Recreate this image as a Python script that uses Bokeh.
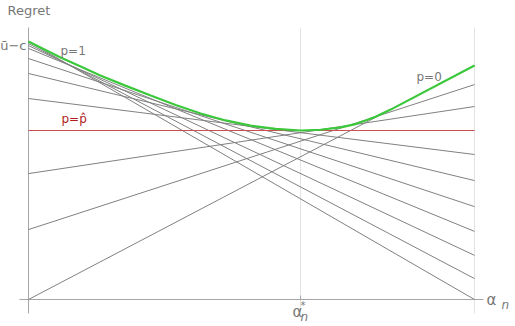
from bokeh.plotting import figure
from bokeh.models import Range1d, Label
from bokeh.embed import file_html
from bokeh.resources import INLINE

# ---------------- data ----------------
# regret lines, one per belief p: value at alpha=0 (left) and alpha=1 (right)
line_left = [1.0, 0.992, 0.984, 0.973, 0.934, 0.876, 0.779, 0.488, 0.271, 0.0]
line_right = [0.0, 0.081, 0.171, 0.264, 0.360, 0.461, 0.562, 0.748, 0.833, 0.907]
# the p = p-hat line (flat)
phat_left = 0.655
phat_right = 0.655
# upper envelope (max regret)
env_x = [0.0, 0.038, 0.072, 0.117, 0.161, 0.217, 0.274, 0.330, 0.386, 0.442,
         0.498, 0.554, 0.610, 0.655, 0.700, 0.733, 0.756, 0.778, 0.812, 1.0]
env_y = [1.0, 0.967, 0.938, 0.903, 0.868, 0.829, 0.791, 0.754, 0.721, 0.694,
         0.674, 0.661, 0.655, 0.658, 0.667, 0.680, 0.694, 0.708, 0.736, 0.907]
alpha_star = 0.61
alpha_max = 1.0

# ---------------- styling ----------------
GRAY = "#808080"
AXIS = "#a6a6a6"
GRID = "#e3e3e3"
GREEN = "#3bc93b"
RED = "#c85050"
RED_TXT = "#b01c1c"
TXT = "#777777"
FONT = "DejaVu Sans"

W, H = 515, 326
X0, XS = 28.0, 446.0
Y0, YS = 299.0, 258.0


def X(px):
    return (px - X0) / XS


def Y(py):
    return (Y0 - py) / YS


p = figure(width=W, height=H, output_backend="svg", toolbar_location=None,
           x_axis_location=None, y_axis_location=None, min_border=0,
           x_range=Range1d(-X0 / XS, (W - X0) / XS),
           y_range=Range1d((Y0 - H) / YS, Y0 / YS))
p.outline_line_color = None
p.grid.visible = False
p.background_fill_color = "white"

# grid lines
p.segment(x0=[alpha_star, alpha_max], y0=[Y(313)] * 2, x1=[alpha_star, alpha_max],
          y1=[Y(27)] * 2, line_color=GRID, line_width=1)
# axes
p.segment(x0=[0.0], y0=[Y(313)], x1=[0.0], y1=[Y(27)], line_color=AXIS, line_width=1)
p.segment(x0=[X(19)], y0=[0.0], x1=[X(483)], y1=[0.0], line_color=AXIS, line_width=1)
# tick at alpha*
p.segment(x0=[alpha_star], y0=[0.0], x1=[alpha_star], y1=[Y(295)], line_color=AXIS, line_width=1)

# gray regret lines
p.segment(x0=[0.0] * len(line_left), y0=line_left, x1=[1.0] * len(line_right), y1=line_right,
          line_color=GRAY, line_width=1)
# p-hat line
p.segment(x0=[0.0], y0=[phat_left], x1=[1.0], y1=[phat_right], line_color=RED, line_width=1.2)
# envelope
p.line(env_x, env_y, line_color=GREEN, line_width=2.2)


def lab(px, py, text, size="12px", color=TXT, align="left", baseline="middle", style="normal"):
    p.add_layout(Label(x=X(px), y=Y(py), text=text, text_font=FONT, text_font_size=size,
                       text_color=color, text_align=align, text_baseline=baseline,
                       text_font_style=style))


lab(7, 10, "Regret", size="13px")
lab(26, 45, "\u016b\u2212c", size="13px", align="right")
lab(60, 50, "p=1", size="12px")
lab(416, 76, "p=0", size="12px")
lab(61, 118, "p=p\u0302", size="12px", color=RED_TXT)
# alpha_n axis label
lab(486, 299, "\u03b1", size="15px")
lab(501, 304, "n", size="12px", style="italic")
# alpha* tick label
lab(292, 311, "\u03b1", size="15px")
lab(300, 305, "*", size="10px")
lab(300, 316, "n", size="12px", style="italic")

open("out.html", "w").write(file_html(p, INLINE))
